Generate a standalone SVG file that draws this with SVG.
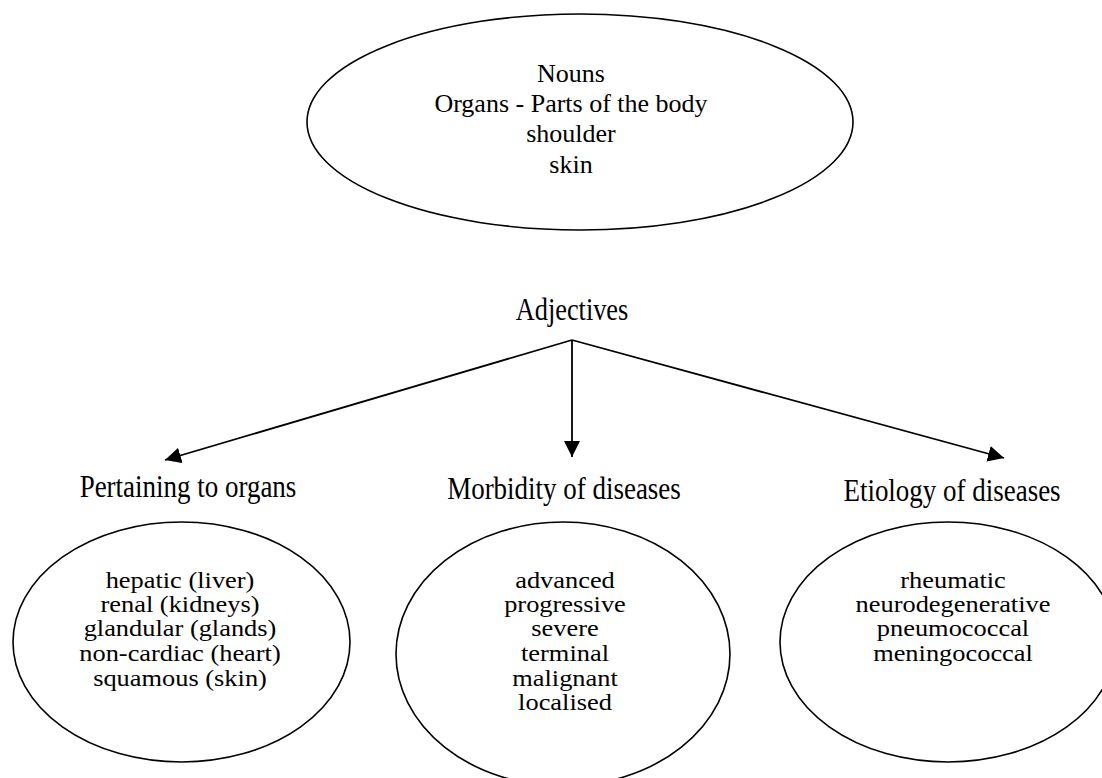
<svg xmlns="http://www.w3.org/2000/svg" width="1102" height="778" viewBox="0 0 1102 778">
<style>
.sh{fill:#fff;stroke:#000;stroke-width:1.6}
.t{font-family:"Liberation Serif","Times New Roman",serif;fill:#000;text-anchor:middle}
.tp{font-size:26px}
.in{font-size:24px}
.lb{font-size:31px}
.cn{stroke:#000;stroke-width:1.8;fill:none;marker-end:url(#ah)}
</style>
<defs>
<marker id="ah" viewBox="0 0 16 16" refX="16" refY="8" markerWidth="16" markerHeight="16" markerUnits="userSpaceOnUse" orient="auto">
<path d="M0,0 L16,8 L0,16 z" fill="#000"/>
</marker>
</defs>
<rect width="1102" height="778" fill="#fff"/>
<g id="nouns">
<ellipse class="sh" cx="580" cy="122" rx="273" ry="108"/>
<text class="t tp" x="571" y="82">Nouns</text>
<text class="t tp" x="571" y="112">Organs - Parts of the body</text>
<text class="t tp" x="571" y="142">shoulder</text>
<text class="t tp" x="571" y="173">skin</text>
</g>
<g id="adjectives">
<text class="t lb" transform="translate(572,0) scale(0.85,1)" x="0" y="320">Adjectives</text>
</g>
<g id="connectors">
<line class="cn" x1="572" y1="340" x2="165" y2="460"/>
<line class="cn" x1="572" y1="340" x2="572" y2="457"/>
<line class="cn" x1="572" y1="340" x2="1004" y2="458"/>
</g>
<g id="pertaining">
<text class="t lb" transform="translate(188,0) scale(0.87,1)" x="0" y="497">Pertaining to organs</text>
<ellipse class="sh" cx="181.5" cy="642" rx="168.5" ry="120"/>
<g transform="translate(180,0) scale(1.1,1)">
<text class="t in" x="0" y="588">hepatic (liver)</text>
<text class="t in" x="0" y="612">renal (kidneys)</text>
<text class="t in" x="0" y="636">glandular (glands)</text>
<text class="t in" x="0" y="661">non-cardiac (heart)</text>
<text class="t in" x="0" y="686">squamous (skin)</text>
</g>
</g>
<g id="morbidity">
<text class="t lb" transform="translate(564,0) scale(0.87,1)" x="0" y="499">Morbidity of diseases</text>
<ellipse class="sh" cx="563" cy="654" rx="167" ry="132"/>
<g transform="translate(565,0) scale(1.1,1)">
<text class="t in" x="0" y="588">advanced</text>
<text class="t in" x="0" y="612">progressive</text>
<text class="t in" x="0" y="636">severe</text>
<text class="t in" x="0" y="661">terminal</text>
<text class="t in" x="0" y="686">malignant</text>
<text class="t in" x="0" y="710">localised</text>
</g>
</g>
<g id="etiology">
<text class="t lb" transform="translate(952,0) scale(0.87,1)" x="0" y="501">Etiology of diseases</text>
<ellipse class="sh" cx="948" cy="642" rx="168" ry="120"/>
<g transform="translate(953,0) scale(1.1,1)">
<text class="t in" x="0" y="588">rheumatic</text>
<text class="t in" x="0" y="612">neurodegenerative</text>
<text class="t in" x="0" y="636">pneumococcal</text>
<text class="t in" x="0" y="661">meningococcal</text>
</g>
</g>
</svg>
